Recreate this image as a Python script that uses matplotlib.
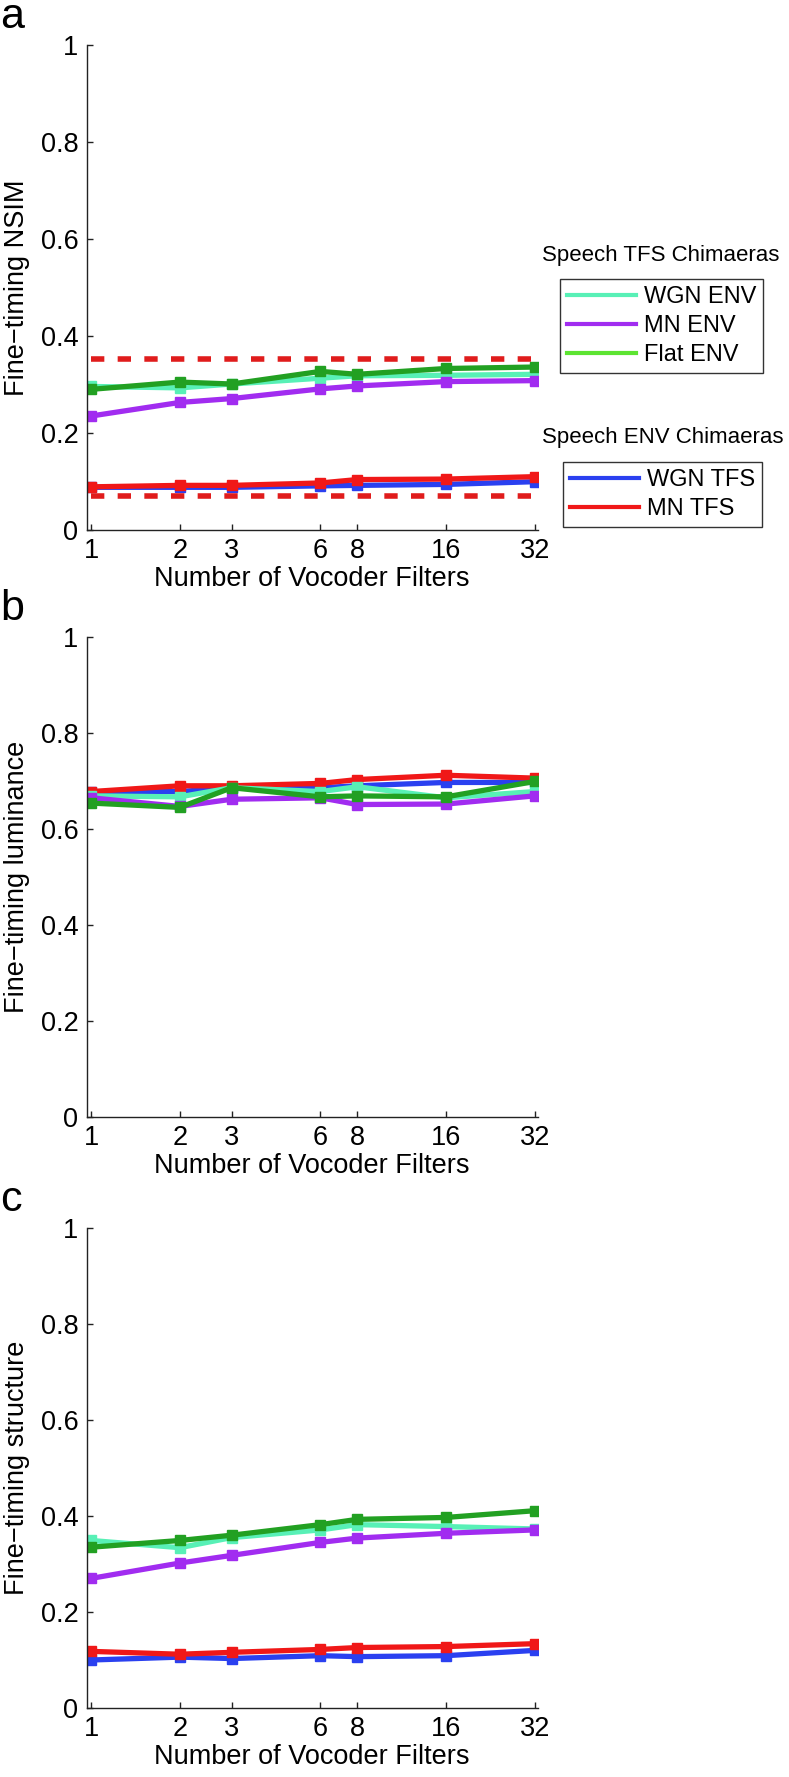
import numpy as np
import matplotlib
matplotlib.use("Agg")
import matplotlib.pyplot as plt
from matplotlib.lines import Line2D

plt.rcParams['font.family'] = ['Liberation Sans', 'DejaVu Sans']

n_filters = [1, 2, 3, 6, 8, 16, 32]
tick_labels = ['1', '2', '3', '6', '8', '16', '32']

# panel a: fine-timing NSIM
a_wgn_env = [0.296, 0.293, 0.301, 0.313, 0.318, 0.319, 0.321]
a_mn_env = [0.235, 0.263, 0.271, 0.291, 0.297, 0.306, 0.308]
a_flat_env = [0.290, 0.305, 0.301, 0.327, 0.321, 0.333, 0.336]
a_wgn_tfs = [0.088, 0.088, 0.088, 0.091, 0.092, 0.094, 0.0996]
a_mn_tfs = [0.089, 0.092, 0.092, 0.097, 0.104, 0.105, 0.110]
a_refs = [0.3525, 0.070]

# panel b: fine-timing luminance
b_wgn_env = [0.669, 0.667, 0.686, 0.678, 0.688, 0.665, 0.678]
b_mn_env = [0.665, 0.647, 0.662, 0.665, 0.651, 0.652, 0.669]
b_flat_env = [0.654, 0.645, 0.686, 0.667, 0.669, 0.667, 0.699]
b_wgn_tfs = [0.677, 0.678, 0.686, 0.686, 0.690, 0.697, 0.697]
b_mn_tfs = [0.678, 0.690, 0.690, 0.695, 0.703, 0.712, 0.706]

# panel c: fine-timing structure
c_wgn_env = [0.349, 0.334, 0.355, 0.371, 0.382, 0.378, 0.373]
c_mn_env = [0.270, 0.302, 0.318, 0.345, 0.354, 0.364, 0.371]
c_flat_env = [0.335, 0.349, 0.360, 0.382, 0.393, 0.397, 0.411]
c_wgn_tfs = [0.100, 0.106, 0.103, 0.109, 0.107, 0.109, 0.120]
c_mn_tfs = [0.118, 0.112, 0.116, 0.122, 0.126, 0.128, 0.134]

col_wgn_env = '#58f0b6'
col_mn_env = '#a12cf0'
col_flat_env = '#22a022'
col_flat_leg = '#5ce431'
col_wgn_tfs = '#2a40f0'
col_mn_tfs = '#f01818'
col_ref = '#e01c1c'

fig = plt.figure(figsize=(7.89, 17.77), dpi=100)

W, H = 789.0, 1777.0
left, right = 86.8, 537.5
panels = [
    (45, 530, 'Fine\u2212timing NSIM', 'a',
     [a_wgn_tfs, a_mn_tfs, a_wgn_env, a_mn_env, a_flat_env], a_refs),
    (637, 1117, 'Fine\u2212timing luminance', 'b',
     [b_wgn_tfs, b_mn_tfs, b_wgn_env, b_mn_env, b_flat_env], None),
    (1228, 1708, 'Fine\u2212timing structure', 'c',
     [c_wgn_tfs, c_mn_tfs, c_wgn_env, c_mn_env, c_flat_env], None),
]
colors = [col_wgn_tfs, col_mn_tfs, col_wgn_env, col_mn_env, col_flat_env]

for top, bot, ylab, letter, series, refs in panels:
    ax = fig.add_axes([left / W, 1 - bot / H, (right - left) / W, (bot - top) / H])
    for vals, c in zip(series, colors):
        ax.plot(n_filters, vals, '-s', color=c, lw=3.8, ms=6.5, mew=1, mec=c, mfc=c)
    if refs is not None:
        for r in refs:
            ax.plot([n_filters[0], n_filters[-1]], [r, r], color=col_ref, lw=4,
                    ls=(0, (2.4, 2.4)))
    ax.set_xscale('log', base=2)
    ax.set_xlim(0.967, 32.7)
    ax.set_ylim(0, 1)
    ax.set_xticks(n_filters)
    ax.set_xticklabels(tick_labels)
    ax.xaxis.set_minor_locator(matplotlib.ticker.NullLocator())
    ax.set_yticks([0, 0.2, 0.4, 0.6, 0.8, 1])
    ax.set_yticklabels(['0', '0.2', '0.4', '0.6', '0.8', '1'])
    for s in ['top', 'right']:
        ax.spines[s].set_visible(False)
    for s in ['left', 'bottom']:
        ax.spines[s].set_color('#222222')
        ax.spines[s].set_linewidth(1.0)
    ax.tick_params(direction='in', length=4, width=1, labelsize=19.5, colors='#222222',
                   labelcolor='black')
    ax.tick_params(axis='y', pad=6)
    ax.tick_params(axis='x', pad=6)
    ax.set_xlabel('Number of Vocoder Filters', fontsize=19.5, labelpad=1)
    ax.set_ylabel(ylab, fontsize=19.5)
    ax.yaxis.set_label_coords(-0.125, 0.5)
    fig.text(0.0, 1 - (top - 8) / H, letter, fontsize=31, ha='left', va='bottom')

# legends (panel a)
fig.text(661 / W, 1 - 256 / H, 'Speech TFS Chimaeras', fontsize=16, ha='center', va='center')
h1 = [Line2D([], [], color=col_wgn_env, lw=3),
      Line2D([], [], color=col_mn_env, lw=3),
      Line2D([], [], color=col_flat_leg, lw=3)]
leg1 = fig.legend(h1, ['WGN ENV', 'MN ENV', 'Flat ENV'], loc='upper left',
                  bbox_to_anchor=(560 / W, 1 - 279 / H), fontsize=17,
                  frameon=True, fancybox=False, handlelength=2.9, handletextpad=0.35,
                  borderpad=0.3, labelspacing=0.3, borderaxespad=0)
leg1.get_frame().set_edgecolor('black')
leg1.get_frame().set_linewidth(1.0)

fig.text(663 / W, 1 - 437 / H, 'Speech ENV Chimaeras', fontsize=16, ha='center', va='center')
h2 = [Line2D([], [], color=col_wgn_tfs, lw=3),
      Line2D([], [], color=col_mn_tfs, lw=3)]
leg2 = fig.legend(h2, ['WGN TFS', 'MN TFS'], loc='upper left',
                  bbox_to_anchor=(563 / W, 1 - 462 / H), fontsize=17,
                  frameon=True, fancybox=False, handlelength=2.9, handletextpad=0.35,
                  borderpad=0.3, labelspacing=0.3, borderaxespad=0)
leg2.get_frame().set_edgecolor('black')
leg2.get_frame().set_linewidth(1.0)

fig.savefig('out.png', dpi=100)
